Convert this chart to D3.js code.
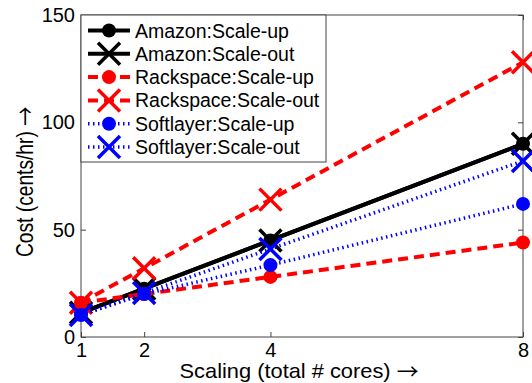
<!DOCTYPE html>
<html>
<head>
<meta charset="utf-8">
<script src="https://cdn.jsdelivr.net/npm/d3@7"></script>
<style>
  html, body { margin: 0; padding: 0; background: #fff; }
  svg { display: block; }
  text { font-family: "Liberation Sans", Arial, Helvetica, sans-serif; fill: #000; }
  .arrow { font-family: "Noto Sans CJK SC", "DejaVu Sans", sans-serif; }
</style>
</head>
<body>
<svg id="chart" width="532" height="383"></svg>
<script>
// Total cores used in each configuration
const cores = [1, 2, 4, 8];

// Hourly cost (cents/hr) per provider and scaling strategy
const amazonScaleUp     = [11.25, 22.5, 45, 90];
const amazonScaleOut    = [11.25, 22.5, 45, 90];
const rackspaceScaleUp  = [16, 20, 28, 44];
const rackspaceScaleOut = [16, 32, 64, 128];
const softlayerScaleUp  = [10.25, 20, 33.5, 62];
const softlayerScaleOut = [10.25, 20.5, 41, 82];

const seriesNames = [
  "Amazon:Scale-up", "Amazon:Scale-out",
  "Rackspace:Scale-up", "Rackspace:Scale-out",
  "Softlayer:Scale-up", "Softlayer:Scale-out"
];
const seriesValues = [
  amazonScaleUp, amazonScaleOut,
  rackspaceScaleUp, rackspaceScaleOut,
  softlayerScaleUp, softlayerScaleOut
];

const xTicks = [1, 2, 4, 8];
const yTicks = [0, 50, 100, 150];

// Drawing styles for each series (colour, dash pattern, marker)
const styles = [
  { color: "#000", dash: null,      width: 4,   marker: "circle" },
  { color: "#000", dash: null,      width: 4,   marker: "x" },
  { color: "#f00", dash: "10,6",    width: 4,   marker: "circle" },
  { color: "#f00", dash: "10,6",    width: 4,   marker: "x" },
  { color: "#00f", dash: "1.5,3.5", width: 3.5, marker: "circle" },
  { color: "#00f", dash: "1.5,3.5", width: 3.5, marker: "x" }
];

const svg = d3.select("#chart");
const plot = { left: 81, right: 523, top: 15, bottom: 337 };

const x = d3.scaleLinear().domain([1, 8]).range([plot.left, plot.right]);
const y = d3.scaleLinear().domain([0, 150]).range([plot.bottom, plot.top]);

// Axes: box with inward ticks on every side
const tickLen = 5;
const axisColor = "#444";

function styleAxis(g) {
  g.select(".domain").remove();
  g.selectAll(".tick line").attr("stroke", axisColor).attr("stroke-width", 1);
  g.selectAll(".tick text").style("font-size", "20px").attr("fill", "#000");
}

svg.append("g")
  .attr("transform", `translate(0,${plot.bottom})`)
  .call(d3.axisBottom(x).tickValues(xTicks).tickFormat(d3.format("d"))
        .tickSizeInner(-tickLen).tickSizeOuter(0).tickPadding(6))
  .call(styleAxis)
  .call(g => g.selectAll(".tick text").attr("dy", "0.72em"));

svg.append("g")
  .attr("transform", `translate(0,${plot.top})`)
  .call(d3.axisTop(x).tickValues(xTicks).tickFormat("")
        .tickSizeInner(-tickLen).tickSizeOuter(0))
  .call(styleAxis);

svg.append("g")
  .attr("transform", `translate(${plot.left},0)`)
  .call(d3.axisLeft(y).tickValues(yTicks).tickFormat(d3.format("d"))
        .tickSizeInner(-tickLen).tickSizeOuter(0).tickPadding(6))
  .call(styleAxis);

svg.append("g")
  .attr("transform", `translate(${plot.right},0)`)
  .call(d3.axisRight(y).tickValues(yTicks).tickFormat("")
        .tickSizeInner(-tickLen).tickSizeOuter(0))
  .call(styleAxis);

svg.append("rect")
  .attr("x", plot.left).attr("y", plot.top)
  .attr("width", plot.right - plot.left).attr("height", plot.bottom - plot.top)
  .attr("fill", "none").attr("stroke", axisColor).attr("stroke-width", 1);

// Axis titles, each ending in an arrow
const xTitle = svg.append("text")
  .attr("transform", "translate(299,378) scale(1.04,1)")
  .attr("text-anchor", "middle")
  .style("font-size", "21px");
xTitle.append("tspan").text("Scaling (total # cores) ");
xTitle.append("tspan").attr("class", "arrow").attr("dy", 1)
  .style("font-size", "21px").text("\u2192");

const yTitle = svg.append("text")
  .attr("transform", "translate(33,257) rotate(-90) scale(0.96,1.2)")
  .style("font-size", "20px");
yTitle.append("tspan").text("Cost (cents/hr) ");
yTitle.append("tspan").attr("class", "arrow").attr("dy", 1)
  .style("font-size", "20px").text("\u2192");

// Marker helpers
const xHalf = 11;
function drawMarker(g, kind, color) {
  if (kind === "circle") {
    g.append("circle").attr("r", 7).attr("fill", color);
  } else {
    g.append("path")
      .attr("d", `M${-xHalf},${-xHalf}L${xHalf},${xHalf}M${-xHalf},${xHalf}L${xHalf},${-xHalf}`)
      .attr("stroke", color).attr("stroke-width", 3.5).attr("fill", "none");
  }
}

// Series lines and markers
const line = d3.line().x(d => x(d[0])).y(d => y(d[1]));
seriesValues.forEach((vals, i) => {
  const st = styles[i];
  const pts = cores.map((c, j) => [c, vals[j]]);
  const g = svg.append("g");
  g.append("path")
    .attr("d", line(pts))
    .attr("fill", "none")
    .attr("stroke", st.color)
    .attr("stroke-width", st.width)
    .attr("stroke-dasharray", st.dash)
    .attr("stroke-linejoin", "round");
  pts.forEach(p => {
    const m = g.append("g").attr("transform", `translate(${x(p[0])},${y(p[1])})`);
    drawMarker(m, st.marker, st.color);
  });
});

// Legend
const legend = { left: 81, top: 15, width: 245, height: 147 };
svg.append("rect")
  .attr("x", legend.left).attr("y", legend.top)
  .attr("width", legend.width).attr("height", legend.height)
  .attr("fill", "#fff").attr("stroke", axisColor).attr("stroke-width", 1);

const rowY = d3.scaleLinear().domain([0, 5]).range([30.5, 147]);
seriesNames.forEach((name, i) => {
  const st = styles[i];
  const cy = rowY(i);
  svg.append("line")
    .attr("x1", 88).attr("x2", 130).attr("y1", cy).attr("y2", cy)
    .attr("stroke", st.color).attr("stroke-width", st.width)
    .attr("stroke-dasharray", st.dash);
  const m = svg.append("g").attr("transform", `translate(109,${cy})`);
  drawMarker(m, st.marker, st.color);
  svg.append("text")
    .attr("x", 135).attr("y", cy).attr("dy", "0.36em")
    .style("font-size", "19.5px")
    .text(name);
});
</script>
</body>
</html>
